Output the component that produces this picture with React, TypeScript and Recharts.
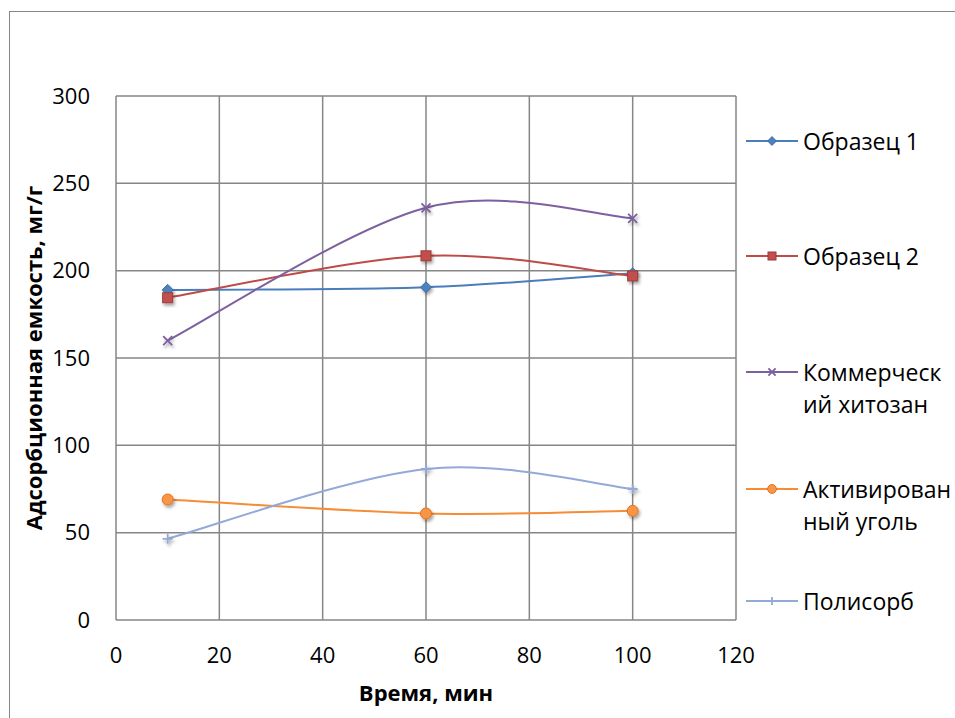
import React from 'react';
import { LineChart, Line, XAxis, YAxis, CartesianGrid, Legend } from 'recharts';

const times = [10, 60, 100];
const sample1 = [189, 190.5, 198.5];
const sample2 = [184.5, 208.5, 197];
const commercial = [160, 236, 230];
const activated = [69, 61, 62.5];
const polysorb = [46.5, 86.5, 75];

const xTicks = [0, 20, 40, 60, 80, 100, 120];
const yTicks = [0, 50, 100, 150, 200, 250, 300];

const seriesNames = ['Образец 1', 'Образец 2', 'Коммерческий хитозан', 'Активированный уголь', 'Полисорб'];
const legendLines = [['Образец 1'], ['Образец 2'], ['Коммерческ', 'ий хитозан'], ['Активирован', 'ный уголь'], ['Полисорб']];

const FONT = '"Open Sans", sans-serif';

const data = times.map((t, i) => ({
  t,
  s1: sample1[i],
  s2: sample2[i],
  s3: commercial[i],
  s4: activated[i],
  s5: polysorb[i],
}));

// Excel-like smoothing curve (Catmull-Rom style Bezier)
function excelSmooth(context: any) {
  let pts: number[][] = [];
  return {
    areaStart() {},
    areaEnd() {},
    lineStart() { pts = []; },
    point(x: number, y: number) { pts.push([+x, +y]); },
    lineEnd() {
      const n = pts.length;
      if (!n) return;
      context.moveTo(pts[0][0], pts[0][1]);
      for (let i = 0; i < n - 1; i++) {
        const p0 = pts[i - 1] || pts[i];
        const p1 = pts[i];
        const p2 = pts[i + 1];
        const p3 = pts[i + 2] || pts[i + 1];
        context.bezierCurveTo(
          p1[0] + (p2[0] - p0[0]) / 6, p1[1] + (p2[1] - p0[1]) / 6,
          p2[0] - (p3[0] - p1[0]) / 6, p2[1] - (p3[1] - p1[1]) / 6,
          p2[0], p2[1]
        );
      }
    },
  };
}

type MarkerKind = 'diamond' | 'square' | 'x' | 'circle' | 'plus';

const colors = ['#4A7EBB', '#BE4B48', '#7D60A0', '#F68C36', '#93AAD8'];
const markerKinds: MarkerKind[] = ['diamond', 'square', 'x', 'circle', 'plus'];

function Marker({ kind, cx, cy, color, scale = 1 }: { kind: MarkerKind; cx: number; cy: number; color: string; scale?: number }) {
  const s = scale;
  switch (kind) {
    case 'diamond':
      return <path d={`M${cx},${cy - 5.5 * s}L${cx + 5.5 * s},${cy}L${cx},${cy + 5.5 * s}L${cx - 5.5 * s},${cy}Z`} fill="#4F81BD" stroke="#3A6AA8" strokeWidth={1} />;
    case 'square':
      return <rect x={cx - 5 * s} y={cy - 5 * s} width={10 * s} height={10 * s} fill="#C0504D" stroke="#9C3B38" strokeWidth={1} />;
    case 'x':
      return <path d={`M${cx - 4.5 * s},${cy - 4.5 * s}L${cx + 4.5 * s},${cy + 4.5 * s}M${cx + 4.5 * s},${cy - 4.5 * s}L${cx - 4.5 * s},${cy + 4.5 * s}`} stroke={color} strokeWidth={1.8} fill="none" />;
    case 'circle':
      return <circle cx={cx} cy={cy} r={5.5 * s} fill="#F79646" stroke="#E3711C" strokeWidth={1} />;
    case 'plus':
      return <path d={`M${cx - 5 * s},${cy}L${cx + 5 * s},${cy}M${cx},${cy - 5 * s}L${cx},${cy + 5 * s}`} stroke={color} strokeWidth={1.8} fill="none" />;
  }
  return null;
}

const makeDot = (idx: number) => (props: any) => {
  const { cx, cy, index } = props;
  if (cx == null || cy == null) return <g key={index} />;
  return (
    <g key={`d${idx}-${index}`} filter="url(#shadow)">
      <Marker kind={markerKinds[idx]} cx={cx} cy={cy} color={colors[idx]} />
    </g>
  );
};

const legendTops = [141, 256, 372, 489, 601];

function LegendContent() {
  return (
    <div style={{ position: 'relative', width: 210, height: 718 }}>
      {legendLines.map((lines, i) => (
        <div key={seriesNames[i]} style={{ position: 'absolute', left: 0, top: legendTops[i] - 16, display: 'flex', alignItems: 'flex-start' }}>
          <svg width={56} height={32} style={{ flex: 'none' }}>
            <line x1={1} y1={16} x2={53} y2={16} stroke={colors[i]} strokeWidth={2} />
            <Marker kind={markerKinds[i]} cx={27} cy={16} color={colors[i]} scale={0.8} />
          </svg>
          <div style={{ fontFamily: FONT, fontSize: 23, lineHeight: '32px', color: '#000', marginLeft: 2, whiteSpace: 'nowrap' }}>
            {lines.map((l, k) => <div key={k}>{l}</div>)}
          </div>
        </div>
      ))}
    </div>
  );
}

export default function App() {
  return (
    <div style={{ position: 'fixed', left: 0, top: 0, width: 955, height: 718, overflow: 'hidden', background: '#fff' }}>
      <div style={{ position: 'absolute', left: 9, top: 11, width: 1000, height: 760, border: '1.5px solid #868686', boxSizing: 'border-box' }} />
      <div style={{ position: 'absolute', left: 0, top: 0 }}>
        <LineChart width={955} height={718} data={data} margin={{ top: 96, right: 9, left: 0, bottom: 0 }}>
          <defs>
            <filter id="shadow" x="-50%" y="-50%" width="200%" height="200%">
              <feDropShadow dx="1.5" dy="2.5" stdDeviation="1.5" floodColor="#000" floodOpacity="0.35" />
            </filter>
          </defs>
          <CartesianGrid stroke="#868686" strokeWidth={1.5} horizontalValues={yTicks} verticalValues={xTicks} />
          <XAxis
            dataKey="t"
            type="number"
            domain={[0, 120]}
            ticks={xTicks}
            axisLine={false}
            tickLine={false}
            tickSize={0}
            tickMargin={27}
            height={98}
            tick={{ fill: '#000', fontSize: 22, fontFamily: FONT }}
            interval={0}
            label={{
              content: ({ viewBox }: any) => (
                <text x={viewBox.x + viewBox.width / 2} y={692} textAnchor="middle" dominantBaseline="central" fontFamily={FONT} fontWeight="bold" fontSize={22} fill="#000">
                  Время, мин
                </text>
              ),
            }}
          />
          <YAxis
            type="number"
            domain={[0, 300]}
            ticks={yTicks}
            axisLine={false}
            tickLine={false}
            tickSize={0}
            tickMargin={26}
            width={116}
            tick={{ fill: '#000', fontSize: 22, fontFamily: FONT }}
            interval={0}
            label={{
              content: ({ viewBox }: any) => {
                const cy = viewBox.y + viewBox.height / 2;
                return (
                  <text x={33} y={cy} transform={`rotate(-90 33 ${cy})`} textAnchor="middle" dominantBaseline="central" fontFamily={FONT} fontWeight="bold" fontSize={22} fill="#000">
                    Адсорбционная емкость, мг/г
                  </text>
                );
              },
            }}
          />
          <Legend
            layout="vertical"
            verticalAlign="middle"
            align="right"
            content={() => <LegendContent />}
            wrapperStyle={{ position: 'absolute', left: 745, top: 0, width: 210, height: 718 }}
          />
          {(['s1', 's2', 's3', 's4', 's5'] as const).map((k, i) => (
            <Line
              key={k}
              dataKey={k}
              name={seriesNames[i]}
              type={excelSmooth as any}
              stroke={colors[i]}
              strokeWidth={2}
              dot={makeDot(i)}
              activeDot={false}
              isAnimationActive={false}
            />
          ))}
        </LineChart>
      </div>
    </div>
  );
}
